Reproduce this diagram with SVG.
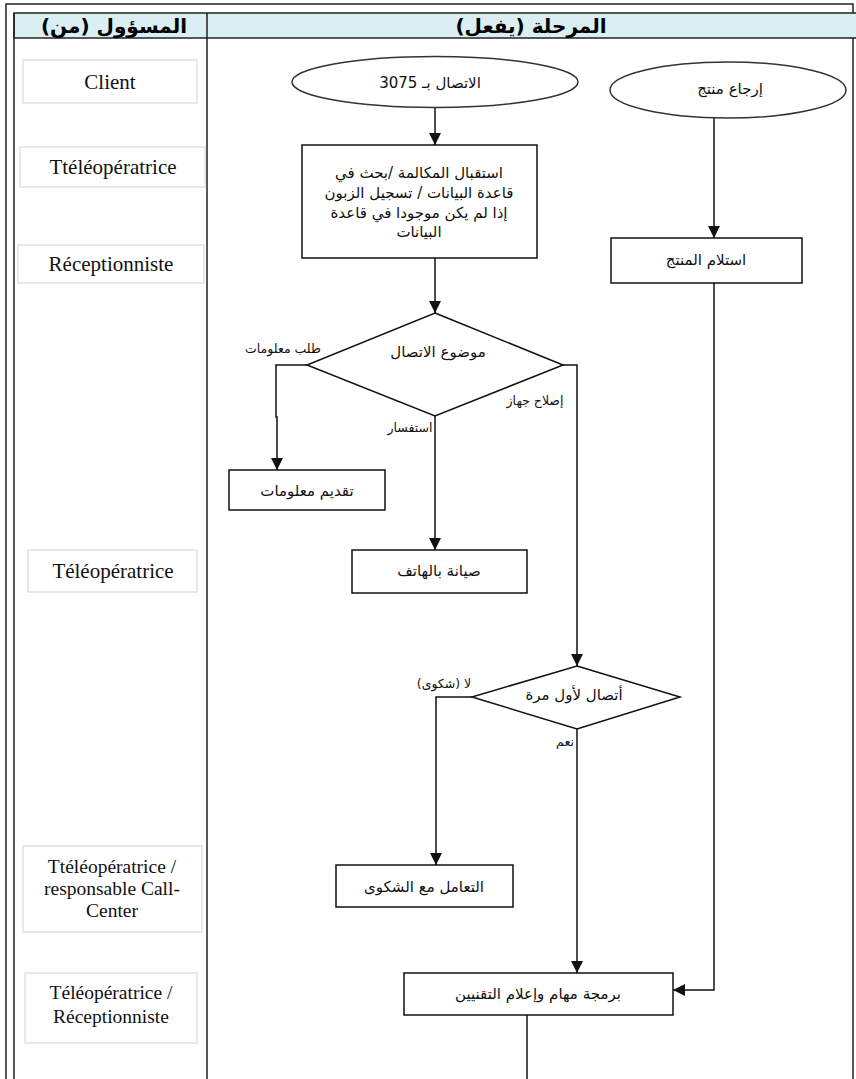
<svg xmlns="http://www.w3.org/2000/svg" width="856" height="1079" viewBox="0 0 856 1079">
  <style>
    .frame { fill: none; stroke: #222; stroke-width: 1.5; }
    .role { fill: #fff; stroke: #d9d9d9; stroke-width: 1.2; }
    .role-t { font-family: "Liberation Serif", "DejaVu Serif", serif; font-size: 21px; fill: #111; text-anchor: middle; }
    .role-m { font-family: "Liberation Serif", "DejaVu Serif", serif; font-size: 19.5px; fill: #111; text-anchor: middle; }
    .hdr { font-family: "DejaVu Sans", "Noto Sans", sans-serif; font-size: 20px; font-weight: bold; fill: #000; text-anchor: middle; direction: rtl; }
    .box { fill: #fff; stroke: #111; stroke-width: 1.5; }
    .oval { fill: #fff; stroke: #333; stroke-width: 1.5; }
    .ar { font-family: "DejaVu Sans", "Noto Sans", sans-serif; font-size: 15px; fill: #111; text-anchor: middle; direction: rtl; }
    .lbl { font-family: "DejaVu Sans", "Noto Sans", sans-serif; font-size: 12.5px; fill: #111; text-anchor: middle; direction: rtl; }
    .conn { fill: none; stroke: #111; stroke-width: 1.5; }
  </style>
  <defs>
    <marker id="arrow" markerUnits="userSpaceOnUse" markerWidth="12" markerHeight="12" viewBox="0 0 12 12" refX="12" refY="6" orient="auto">
      <path d="M0,0 L12,6 L0,12 Z" fill="#111"/>
    </marker>
  </defs>

  <rect width="856" height="1079" fill="#fff"/>

  <!-- table frame and header -->
  <g id="table">
    <path class="frame" d="M6,1079 V4 H853 V1079"/>
    <rect x="14" y="13" width="850" height="25" fill="#daeef3" stroke="#222" stroke-width="1.5"/>
    <path class="frame" d="M14,13 V1079 M207,13 V1079"/>
    <text class="hdr" x="114" y="33">المسؤول (من)</text>
    <text class="hdr" x="531" y="33">المرحلة (يفعل)</text>
  </g>

  <!-- responsible roles -->
  <g id="role-client">
    <rect class="role" x="23" y="60" width="174" height="43"/>
    <text class="role-t" x="110" y="89">Client</text>
  </g>
  <g id="role-teleop1">
    <rect class="role" x="20" y="147" width="185" height="40"/>
    <text class="role-t" x="113" y="174">Ttéléopératrice</text>
  </g>
  <g id="role-recep">
    <rect class="role" x="18" y="245" width="186" height="38"/>
    <text class="role-t" x="111" y="271">Réceptionniste</text>
  </g>
  <g id="role-teleop2">
    <rect class="role" x="28" y="550" width="169" height="42"/>
    <text class="role-t" x="113" y="578">Téléopératrice</text>
  </g>
  <g id="role-callcenter">
    <rect class="role" x="23" y="846" width="179" height="86"/>
    <text class="role-m" x="112" y="873">Ttéléopératrice /</text>
    <text class="role-m" x="112" y="895">responsable Call-</text>
    <text class="role-m" x="112" y="917">Center</text>
  </g>
  <g id="role-teleop-recep">
    <rect class="role" x="25" y="973" width="172" height="70"/>
    <text class="role-m" x="111" y="999">Téléopératrice /</text>
    <text class="role-m" x="111" y="1023">Réceptionniste</text>
  </g>

  <!-- connectors -->
  <g id="connectors">
    <path class="conn" d="M435,108 V145" marker-end="url(#arrow)"/>
    <path class="conn" d="M435,258 V313" marker-end="url(#arrow)"/>
    <path class="conn" d="M307,365 H276 V417 H277 V470" marker-end="url(#arrow)"/>
    <path class="conn" d="M435,416 V550" marker-end="url(#arrow)"/>
    <path class="conn" d="M563,365 H577 V666" marker-end="url(#arrow)"/>
    <path class="conn" d="M472,697 H436 V865" marker-end="url(#arrow)"/>
    <path class="conn" d="M577,729 V973" marker-end="url(#arrow)"/>
    <path class="conn" d="M714,118 V238" marker-end="url(#arrow)"/>
    <path class="conn" d="M714,283 V990 H673" marker-end="url(#arrow)"/>
    <path class="conn" d="M527,1015 V1079"/>
    <text class="lbl" x="283" y="353">طلب معلومات</text>
    <text class="lbl" x="410" y="432">استفسار</text>
    <text class="lbl" x="535" y="405">إصلاح جهاز</text>
    <text class="lbl" x="444" y="688">لا (شكوى)</text>
    <text class="lbl" x="565" y="746">نعم</text>
  </g>

  <!-- process nodes -->
  <g id="start-call">
    <ellipse class="oval" cx="435" cy="82" rx="143" ry="25.5"/>
    <text class="ar" x="430" y="88">الاتصال بـ 3075</text>
  </g>
  <g id="start-return">
    <ellipse class="oval" cx="728" cy="90" rx="118" ry="28"/>
    <text class="ar" x="730" y="94">إرجاع منتج</text>
  </g>
  <g id="receive-call">
    <rect class="box" x="302" y="145" width="235" height="113"/>
    <text class="ar" x="419" y="178">استقبال المكالمة /بحث في</text>
    <text class="ar" x="419" y="198">قاعدة البيانات / تسجيل الزبون</text>
    <text class="ar" x="419" y="218">إذا لم يكن موجودا في قاعدة</text>
    <text class="ar" x="419" y="237">البيانات</text>
  </g>
  <g id="receive-product">
    <rect class="box" x="611" y="238" width="191" height="45"/>
    <text class="ar" x="706" y="265">استلام المنتج</text>
  </g>
  <g id="call-subject">
    <polygon class="box" points="435,313 563,365 435,416 307,365"/>
    <text class="ar" x="438" y="357">موضوع الاتصال</text>
  </g>
  <g id="give-info">
    <rect class="box" x="229" y="470" width="156" height="40"/>
    <text class="ar" x="307" y="496">تقديم معلومات</text>
  </g>
  <g id="phone-maintenance">
    <rect class="box" x="352" y="550" width="175" height="43"/>
    <text class="ar" x="439" y="576">صيانة بالهاتف</text>
  </g>
  <g id="first-call">
    <polygon class="box" points="577,666 680,697 577,729 472,697"/>
    <text class="ar" x="574" y="700">أتصال لأول مرة</text>
  </g>
  <g id="handle-complaint">
    <rect class="box" x="336" y="865" width="177" height="42"/>
    <text class="ar" x="424" y="892">التعامل مع الشكوى</text>
  </g>
  <g id="schedule-tasks">
    <rect class="box" x="404" y="973" width="269" height="42"/>
    <text class="ar" x="538" y="999">برمجة مهام وإعلام التقنيين</text>
  </g>
</svg>
